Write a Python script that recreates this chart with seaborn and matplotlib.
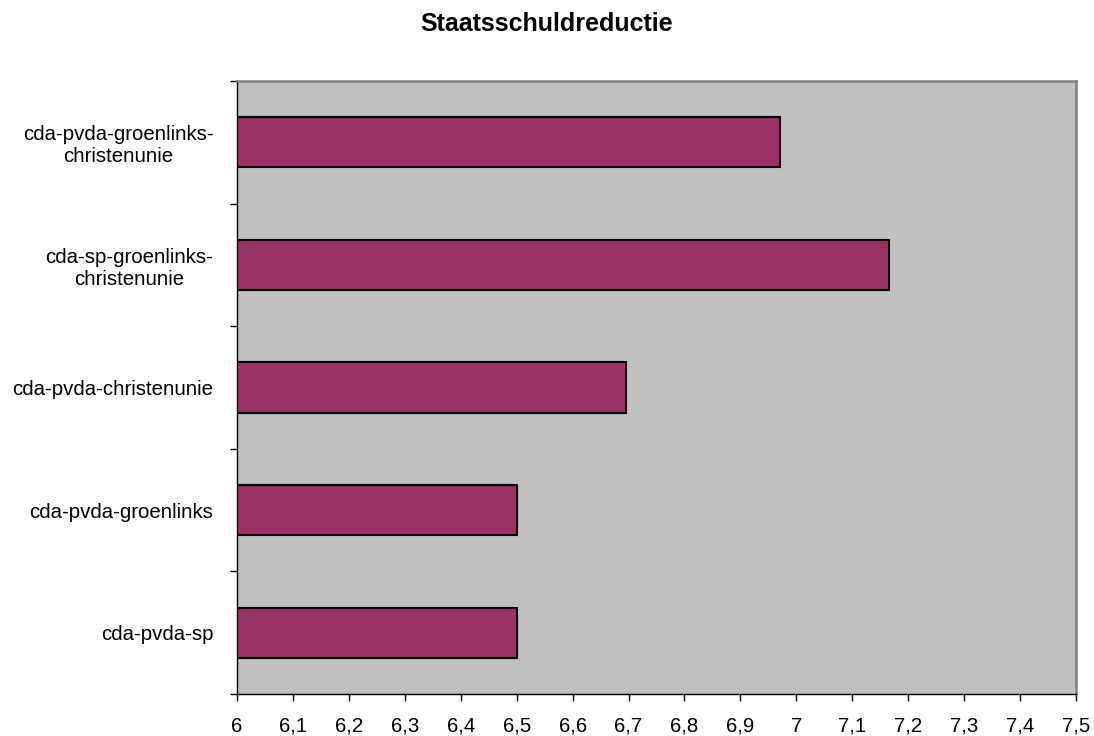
import numpy as np
import pandas as pd
import matplotlib
matplotlib.use("Agg")
import matplotlib.pyplot as plt
import seaborn as sns

coalities = ["cda-pvda-groenlinks-\nchristenunie", "cda-sp-groenlinks-\nchristenunie",
             "cda-pvda-christenunie", "cda-pvda-groenlinks", "cda-pvda-sp"]
reductie = [6.97, 7.165, 6.695, 6.5, 6.5]
x_ticks = [6, 6.1, 6.2, 6.3, 6.4, 6.5, 6.6, 6.7, 6.8, 6.9, 7, 7.1, 7.2, 7.3, 7.4, 7.5]

data = pd.DataFrame({"coalitie": coalities, "reductie": reductie})

sns.set_style("white")
plt.rcParams['font.family'] = ['Liberation Sans', 'DejaVu Sans']
plt.rcParams['text.color'] = 'black'
plt.rcParams['xtick.color'] = 'black'
plt.rcParams['ytick.color'] = 'black'

fig = plt.figure(figsize=(10.94, 7.36), dpi=100)
ax = fig.add_axes([237/1094, 1 - 694/736, (1076-237)/1094, (694-81)/736])
ax.set_facecolor('#C0C0C0')

#Horizontal bars
sns.barplot(x='reductie', y='coalitie', data=data, orient='h', color='#993366',
            saturation=1, width=0.41, edgecolor='black', linewidth=1.5, ax=ax)

ax.set_xlim(6, 7.5)
ax.set_ylim(len(coalities) - 0.5, -0.5)
ax.set_xticks(x_ticks)
ax.set_xticklabels([('%g' % v).replace('.', ',') for v in x_ticks], fontsize=14.7)
ax.set_yticks(range(len(coalities)))
ax.set_yticklabels(coalities, fontsize=14.7, multialignment='center')
ax.set_yticks(np.arange(-0.5, len(coalities), 1), minor=True)
ax.tick_params(axis='y', which='major', length=0, pad=17)
ax.tick_params(axis='y', which='minor', length=5, width=1, color='black', left=True)
ax.tick_params(axis='x', which='major', length=5, width=1, color='black', bottom=True, pad=11.4)
ax.set_xlabel('')
ax.set_ylabel('')

for side in ['top', 'right']:
    ax.spines[side].set_color('#808080')
    ax.spines[side].set_linewidth(1.8)
for side in ['left', 'bottom']:
    ax.spines[side].set_color('black')
    ax.spines[side].set_linewidth(1)

fig.text(0.5, 1 - 31/736, 'Staatsschuldreductie', fontsize=18, fontweight='bold',
         ha='center', va='baseline')

plt.savefig('out.png', dpi=100)
